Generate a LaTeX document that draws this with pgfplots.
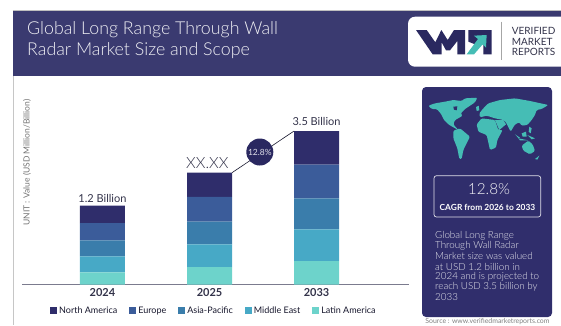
\documentclass[border=0pt]{standalone}
\usepackage{pgfplots}
\pgfplotsset{compat=1.18}
\usepackage{fontspec}
\setmainfont{Lato}
\newfontfamily\lightf{Lato Light}
\definecolor{banner}{HTML}{3A3A70}
\definecolor{panel}{HTML}{302E6C}
\definecolor{cNA}{HTML}{2F2D6B}
\definecolor{cEU}{HTML}{3B5C9A}
\definecolor{cAP}{HTML}{3A7DAB}
\definecolor{cME}{HTML}{47A9C6}
\definecolor{cLA}{HTML}{6DD3CB}
\definecolor{mapc}{HTML}{45BDB5}
\definecolor{txt}{HTML}{33334A}
\begin{document}
\begin{tikzpicture}
\begin{scope}[x=1bp,y=-1bp]
\path[use as bounding box] (0,0) rectangle (561,325);
\begin{scope}
\clip (0,0) rectangle (561,325);
\draw[gray!45,line width=0.6bp] (13.2,76) -- (13.2,325);
\fill[banner] (12.7,10) rectangle (561,76);
\draw[gray!50,line width=0.5bp] (12.7,10) -- (561,10);
\node[anchor=west,text=white!92!banner,inner sep=0,font=\fontsize{17.8bp}{21bp}\selectfont\lightf] at (27,29.5) {Global Long Range Through Wall};
\node[anchor=west,text=white!92!banner,inner sep=0,font=\fontsize{17.8bp}{21bp}\selectfont\lightf] at (27,50.5) {Radar Market Size and Scope};
% logo
\fill[white,rounded corners=7bp] (408,16.7) rectangle (575,66.7);
\begin{scope}[shift={(400,5)},x=0.3333bp,y=-0.3333bp]
\fill[cNA!90!black] (48,75)--(80,75)--(106,112)--(124,75)--(143,105)--(162,75)--(195,75)--(195,148)--(172,148)--(172,108)--(150,136)--(138,136)--(125,112)--(125,148)--(98,148)--cycle;
\fill[cNA!90!black] (205,75)--(275,75)--(275,148)--(250,148)--(250,118)--(225,118)--(205,110)--cycle;
\draw[white,line width=3bp] (205,150)--(250,105);
\fill[mapc] (200,148)--(222,148)--(248,118)--(258,128)--(260,90)--(222,92)--(234,102)--cycle;
\end{scope}
\draw[gray!70,line width=0.6bp] (501,21.7)--(501,60);
\foreach \yy/\tt in {31/VERIFIED,41.7/MARKET,52.3/REPORTS}
  \node[anchor=west,inner sep=0,text=txt,font=\fontsize{10bp}{11bp}\selectfont] at (511.7,\yy) {\tt};
% panel
\fill[panel,rounded corners=4bp] (422,87) rectangle (552,317);
\begin{scope}[shift={(420,85)},x=0.3333bp,y=-0.3333bp]
\fill[mapc,rounded corners=1.2bp] (25,62)--(45,55)--(75,50)--(100,45)--(125,48)--(135,40)--(172,38)--(165,52)--(150,62)--(135,72)--(122,85)--(128,92)--(118,98)--(105,105)--(100,118)--(115,135)--(100,127)--(85,118)--(72,105)--(62,85)--(50,72)--(35,72)--cycle;
\fill[panel] (100,65)--(112,64)--(110,76)--(102,74)--cycle;
\fill[mapc,rounded corners=1.2bp] (100,137)--(120,130)--(150,155)--(140,175)--(130,195)--(125,222)--(118,222)--(112,190)--(100,160)--cycle;
\fill[mapc,rounded corners=1.2bp] (178,85)--(190,70)--(205,55)--(240,45)--(285,40)--(330,48)--(385,60)--(365,72)--(350,75)--(345,90)--(335,105)--(322,120)--(305,122)--(298,112)--(285,118)--(272,140)--(258,112)--(250,105)--(225,100)--(200,92)--(180,97)--cycle;
\fill[mapc,rounded corners=1.2bp] (170,118)--(185,100)--(225,105)--(235,135)--(248,135)--(232,165)--(228,188)--(210,195)--(200,150)--(175,140)--cycle;
\fill[mapc] (225,105)--(250,105)--(258,118)--(238,135)--cycle;
\fill[mapc] (168,66)--(176,62)--(178,76)--(170,78)--cycle;
\fill[mapc] (285,148)--(300,158)--(296,160)--cycle;
\fill[mapc] (305,145)--(318,140)--(320,155)--(308,155)--cycle;
\fill[mapc] (322,150)--(345,160)--(335,163)--cycle;
\fill[mapc] (295,160)--(325,166)--(300,166)--cycle;
\fill[mapc] (328,125)--(335,130)--(332,145)--(326,140)--cycle;
\fill[mapc,rounded corners=1.2bp] (305,182)--(325,167)--(338,178)--(345,198)--(330,208)--(310,197)--cycle;
\fill[mapc] (345,222)--(358,212)--(352,224)--cycle;
\end{scope}
\draw[white!85!panel,rounded corners=2.5bp,line width=0.7bp] (434,175.7) rectangle (540.7,217);
\node[text=white!95!panel,inner sep=0,font=\fontsize{15.3bp}{17bp}\selectfont\lightf] at (489,189.5) {12.8\%};
\node[text=white,inner sep=0,font=\fontsize{8.4bp}{9bp}\selectfont\bfseries] at (487.5,207) {CAGR from 2026 to 2033};
\foreach \yy/\tt in {235.7/Global Long Range,246/Through Wall Radar,256.3/Market size was valued,266.6/at USD 1.2 billion in,276.9/2024 and is projected to,287.2/reach USD 3.5 billion by,297.5/2033}
  \node[anchor=west,inner sep=0,text=white!88!panel,font=\fontsize{9.8bp}{10bp}\selectfont\lightf] at (435,\yy) {\tt};
\node[inner sep=0,text=gray,font=\fontsize{6.9bp}{7bp}\selectfont] at (487.5,322) {Source : www.verifiedmarketreports.com};
\end{scope}
\end{scope}
\begin{axis}[
  at={(22bp,-284.7bp)},anchor=south west,
  scale only axis,width=387bp,height=190bp,
  xmin=-0.752,xmax=2.864,ymin=0,ymax=190,
  ybar stacked,bar width=45bp,
  axis x line*=bottom,axis y line*=left,
  axis line style={-},
  x axis line style={draw=black!40!banner!60!white,line width=0.9bp},
  y axis line style={draw=none},
  ytick=\empty,
  xtick={0,1,2},xticklabels={2024,2025,2033},
  xtick style={draw=none},
  xticklabel style={font=\fontsize{11bp}{12bp}\selectfont\bfseries,text=txt,inner sep=0,yshift=-4bp},
  clip=false,
  ylabel={UNIT : Value (USD Million/Billion)},
  every axis y label/.style={at={(rel axis cs:0.013,0.643)},rotate=90,anchor=center,inner sep=0,font=\fontsize{8.5bp}{9bp}\selectfont,text=black!55},
  legend columns=5,reverse legend,
  legend style={at={(rel axis cs:0.496,-0.137)},anchor=center,draw=none,fill=none,inner sep=0,
    font=\fontsize{9bp}{10bp}\selectfont,text=black!60!banner,
    /tikz/every even column/.style={column sep=10bp}},
  legend image code/.code={\fill[#1,draw=none] (0bp,-3.5bp) rectangle (7bp,3.5bp);},
]
\addplot[fill=cLA,draw=none] coordinates {(0,12.3) (1,17.7) (2,23.7)};
\addplot[fill=cME,draw=none] coordinates {(0,16) (1,22.7) (2,31.7)};
\addplot[fill=cAP,draw=none] coordinates {(0,16) (1,22.7) (2,31)};
\addplot[fill=cEU,draw=none] coordinates {(0,17.3) (1,24.7) (2,33.7)};
\addplot[fill=cNA,draw=none] coordinates {(0,17.4) (1,24.2) (2,33.6)};
\legend{Latin America,Middle East,Asia-Pacific,Europe,North America}
\end{axis}
\begin{axis}[
  at={(22bp,-284.7bp)},anchor=south west,
  scale only axis,width=387bp,height=190bp,
  xmin=-0.752,xmax=2.864,ymin=0,ymax=190,
  hide axis,clip=false]
\addplot[draw=black!60!banner,line width=0.6bp] coordinates {(1.21,112) (1.79,153.7)};
\node[circle,fill=cNA!90!black,minimum size=27bp,inner sep=0,text=white!85!cNA,font=\fontsize{8.5bp}{9bp}\selectfont] at (axis cs:1.47,132.7) {12.8\%};
\node[anchor=south,inner sep=0,text=txt,font=\fontsize{11bp}{12bp}\selectfont] at (axis cs:0,82) {1.2 Billion};
\node[anchor=south,inner sep=0,text=txt,font=\fontsize{15.5bp}{16bp}\selectfont\lightf] at (axis cs:0.98,115.5) {XX.XX};
\node[anchor=south,inner sep=0,text=txt,font=\fontsize{11bp}{12bp}\selectfont] at (axis cs:2,158.5) {3.5 Billion};
\end{axis}
\end{tikzpicture}
\end{document}
